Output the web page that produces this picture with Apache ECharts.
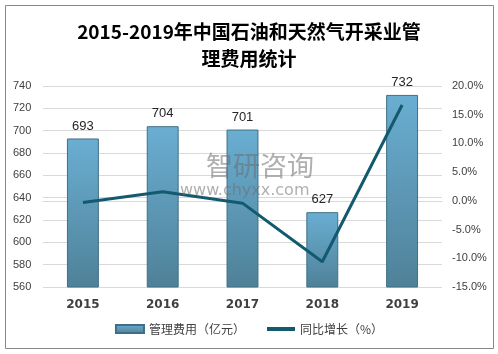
<!DOCTYPE html>
<html>
<head>
<meta charset="utf-8">
<script src="https://cdn.jsdelivr.net/npm/echarts@6/dist/echarts.min.js"></script>
<style>
html,body{margin:0;padding:0;background:#fff;}
#chart{width:498px;height:354px;}
</style>
</head>
<body>
<div id="chart"></div>
<script>
var years = ['2015', '2016', '2017', '2018', '2019'];
var costs = [693, 704, 701, 627, 732];
var growth = [-0.3, 1.6, -0.4, -10.6, 16.7];
var leftTicks = {min: 560, max: 740, step: 20};
var rightTicks = {min: -15, max: 20, step: 5};

var myChart = echarts.init(document.getElementById('chart'));
var option = {
    backgroundColor: '#fff',
    animation: false,
    title: {
        text: '2015-2019年中国石油和天然气开采业管\n理费用统计',
        left: 'center',
        top: 13,
        textStyle: {
            color: '#000',
            fontSize: 19,
            fontWeight: 'bold',
            lineHeight: 27,
            fontFamily: 'Noto Sans CJK SC'
        }
    },
    graphic: [
        {
            type: 'rect',
            shape: {x: 5.5, y: 5.5, width: 488, height: 343},
            style: {fill: 'none', stroke: '#888', lineWidth: 1},
            z: 100
        },
        // watermark
        {
            type: 'text', left: 206, top: 152,
            style: {text: '智研咨询', fill: 'rgba(110,110,110,0.55)', font: '27px "Noto Sans CJK SC"'},
            z: 50
        },
        {
            type: 'text', left: 180, top: 183,
            style: {text: 'www.chyxx.com', fill: 'rgba(110,110,110,0.55)', font: '16px "DejaVu Sans"'},
            z: 50
        }
    ],
    legend: {
        bottom: 14,
        left: 'center',
        itemWidth: 28,
        itemHeight: 8,
        itemGap: 22,
        textStyle: {color: '#404040', fontSize: 12, fontFamily: 'Noto Sans CJK SC'},
        data: [
            {name: '管理费用（亿元）', icon: 'rect'},
            {name: '同比增长（%）', icon: 'path://M0,0 L28,0 L28,4 L0,4 Z'}
        ]
    },
    grid: {left: 43, right: 56, top: 86, bottom: 67},
    xAxis: {
        type: 'category',
        data: years,
        axisTick: {show: false},
        axisLine: {lineStyle: {color: '#d9d9d9'}},
        axisLabel: {color: '#404040', fontSize: 12, fontWeight: 'bold', margin: 12, fontFamily: 'DejaVu Sans'}
    },
    yAxis: [
        {
            type: 'value',
            min: leftTicks.min, max: leftTicks.max, interval: leftTicks.step,
            axisLine: {show: false},
            axisTick: {show: false},
            splitLine: {lineStyle: {color: '#d9d9d9'}},
            axisLabel: {color: '#404040', fontSize: 11, margin: 30, align: 'left', fontFamily: 'Liberation Sans'}
        },
        {
            type: 'value',
            min: rightTicks.min, max: rightTicks.max, interval: rightTicks.step,
            axisLine: {show: false},
            axisTick: {show: false},
            splitLine: {show: false},
            axisLabel: {
                color: '#404040', fontSize: 11, margin: 10, fontFamily: 'Liberation Sans',
                formatter: function (v) { return v.toFixed(1) + '%'; }
            }
        }
    ],
    series: [
        {
            name: '管理费用（亿元）',
            type: 'bar',
            barWidth: '40%',
            data: costs,
            itemStyle: {
                color: new echarts.graphic.LinearGradient(0, 0, 0, 1, [
                    {offset: 0, color: '#6aaed2'},
                    {offset: 1, color: '#4f8198'}
                ]),
                borderColor: '#3f6f86',
                borderWidth: 1
            },
            label: {
                show: true, position: 'top', distance: 6,
                color: '#262626', fontSize: 13, fontFamily: 'Liberation Sans'
            }
        },
        {
            name: '同比增长（%）',
            type: 'line',
            yAxisIndex: 1,
            data: growth,
            symbol: 'none',
            lineStyle: {color: '#135a6f', width: 3},
            itemStyle: {color: '#135a6f'},
            z: 10
        }
    ]
};
myChart.setOption(option);
</script>
</body>
</html>
